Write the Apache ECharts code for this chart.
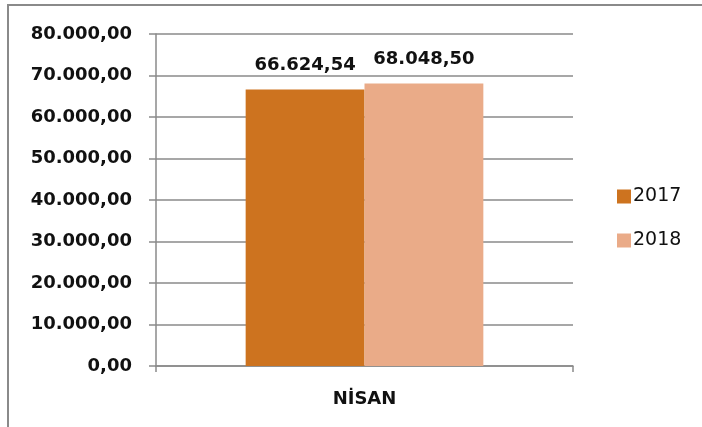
<!DOCTYPE html>
<html>
<head>
<meta charset="utf-8">
<script src="https://cdn.jsdelivr.net/npm/echarts@6/dist/echarts.min.js"></script>
<style>
  html, body { margin: 0; padding: 0; background: #fff; }
  #chart { width: 702px; height: 427px; }
</style>
</head>
<body>
<div id="chart"></div>
<script>
// data
var categories = ['NİSAN'];
var seriesNames = ['2017', '2018'];
var values2017 = [66624.54];
var values2018 = [68048.50];
var yTicks = [0, 80000, 10000]; // min, max, step

function fmtTR(v) {
  var parts = v.toFixed(2).split('.');
  var intPart = parts[0].replace(/\B(?=(\d{3})+(?!\d))/g, '.');
  return intPart + ',' + parts[1];
}

var font = '"DejaVu Sans", sans-serif';
var chart = echarts.init(document.getElementById('chart'));
chart.setOption({
  animation: false,
  textStyle: { fontFamily: font },
  // outer frame, cropped on the right and bottom like the picture
  graphic: [{
    type: 'polyline',
    shape: { points: [[8, 440], [8, 5], [760, 5]] },
    style: { fill: null, stroke: '#8a8a8a', lineWidth: 2 },
    silent: true
  }],
  grid: { left: 156, right: 129, top: 34, bottom: 61 },
  legend: {
    orient: 'vertical',
    left: 612,
    top: 182,
    itemWidth: 14,
    itemHeight: 14,
    itemGap: 25,
    icon: 'rect',
    textStyle: { fontSize: 19, color: '#111', fontFamily: font, padding: [0, 0, 0, -3] },
    data: seriesNames
  },
  xAxis: {
    type: 'category',
    data: categories,
    axisLine: { lineStyle: { color: '#8a8a8a', width: 1.5 } },
    axisTick: { show: true, length: 6, alignWithLabel: false, lineStyle: { color: '#8a8a8a', width: 1.5 } },
    axisLabel: { margin: 24, fontSize: 18, fontWeight: 'bold', color: '#111', fontFamily: font }
  },
  yAxis: {
    type: 'value',
    min: yTicks[0],
    max: yTicks[1],
    interval: yTicks[2],
    axisLine: { show: true, lineStyle: { color: '#8a8a8a', width: 1.5 } },
    axisTick: { show: true, length: 7, lineStyle: { color: '#8a8a8a', width: 1.5 } },
    splitLine: { lineStyle: { color: '#8a8a8a', width: 1.5 } },
    axisLabel: {
      margin: 24,
      fontSize: 18,
      fontWeight: 'bold',
      color: '#111',
      fontFamily: font,
      formatter: function (v) { return fmtTR(v); }
    }
  },
  series: [{
    name: seriesNames[0],
    type: 'bar',
    data: values2017,
    barGap: '0%',
    barCategoryGap: '43%',
    itemStyle: { color: '#CD731F' },
    label: {
      show: true, position: 'top', distance: 15,
      fontSize: 18, fontWeight: 'bold', color: '#111', fontFamily: font,
      formatter: function (p) { return fmtTR(p.value); }
    }
  }, {
    name: seriesNames[1],
    type: 'bar',
    data: values2018,
    barGap: '0%',
    barCategoryGap: '43%',
    itemStyle: { color: '#EAAB88' },
    label: {
      show: true, position: 'top', distance: 15,
      fontSize: 18, fontWeight: 'bold', color: '#111', fontFamily: font,
      formatter: function (p) { return fmtTR(p.value); }
    }
  }]
});
</script>
</body>
</html>
